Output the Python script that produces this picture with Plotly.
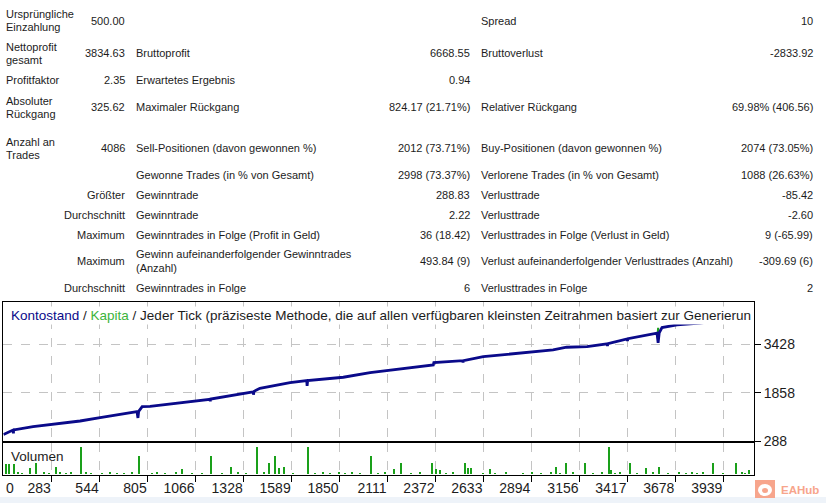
import plotly.graph_objects as go

W, H = 826, 503          # reference picture size (coordinates below are read in these pixels)
FIG_H = 511              # page height that the photographed viewport actually spans

# ---------------- statistics table (text data) ----------------
col_a = ["Ursprüngliche\nEinzahlung", "Nettoprofit\ngesamt", "Profitfaktor", "Absoluter\nRückgang",
         "Anzahl an\nTrades", "", "Größter", "Durchschnitt", "Maximum", "Maximum", "Durchschnitt"]
col_b = ["500.00", "3834.63", "2.35", "325.62", "4086", "", "", "", "", "", ""]
col_c = ["", "Bruttoprofit", "Erwartetes Ergebnis", "Maximaler Rückgang",
         "Sell-Positionen (davon gewonnen %)", "Gewonne Trades (in % von Gesamt)",
         "Gewinntrade", "Gewinntrade", "Gewinntrades in Folge (Profit in Geld)",
         "Gewinn aufeinanderfolgender Gewinntrades\n(Anzahl)", "Gewinntrades in Folge"]
col_d = ["", "6668.55", "0.94", "824.17 (21.71%)", "2012 (73.71%)", "2998 (73.37%)",
         "288.83", "2.22", "36 (18.42)", "493.84 (9)", "6"]
col_e = ["Spread", "Bruttoverlust", "", "Relativer Rückgang", "Buy-Positionen (davon gewonnen %)",
         "Verlorene Trades (in % von Gesamt)", "Verlusttrade", "Verlusttrade",
         "Verlusttrades in Folge (Verlust in Geld)",
         "Verlust aufeinanderfolgender Verlusttrades (Anzahl)", "Verlusttrades in Folge"]
col_f = ["10", "-2833.92", "", "69.98% (406.56)", "2074 (73.05%)", "1088 (26.63%)",
         "-85.42", "-2.60", "9 (-65.99)", "-309.69 (6)", "2"]

# ---------------- balance / equity curve ----------------
bal_trades = [20, 72, 74, 76, 181, 437, 546, 747, 752, 756, 775, 818, 1144, 1146, 1148,
              1362, 1379, 1381, 1384, 1416, 1580, 1671, 1673, 1676, 1870, 2016, 2360, 2363,
              2520, 2522, 2524, 2632, 2794, 3012, 3086, 3197, 3306, 3308, 3311, 3415, 3417,
              3420, 3578, 3584, 3590, 3605, 3687, 3812, 4086]
balance = [500, 646, 540, 650, 753, 938, 1045, 1240, 1036, 1250, 1403, 1410, 1643, 1580, 1650,
           1858, 1880, 1793, 1900, 2001, 2183, 2248, 2076, 2252, 2359, 2508, 2758, 2833,
           2896, 2840, 2898, 3028, 3116, 3246, 3334, 3353, 3441, 3376, 3450, 3603, 3540,
           3610, 3789, 3474, 3800, 3971, 4059, 4114, 4335]
eq_trades = [3582, 3584, 3586]
equity = [3789, 3965, 3800]

# ---------------- volume ----------------
vol_trades = [34, 52, 79, 100, 125, 165, 196, 240, 270, 306, 330, 360, 390, 446, 470, 500,
              560, 600, 640, 680, 720, 760, 830, 860, 900, 960, 992, 1050, 1100, 1154,
              1210, 1259, 1300, 1340, 1404, 1440, 1467, 1500, 1522, 1549, 1600, 1680,
              1720, 1760, 1800, 1850, 1880, 1920, 1960, 2025, 2060, 2100, 2148, 2188,
              2240, 2290, 2352, 2379, 2397, 2430, 2470, 2533, 2551, 2569, 2630, 2669,
              2700, 2760, 2850, 2900, 2950, 3000, 3027, 3050, 3083, 3120, 3186, 3230,
              3280, 3318, 3327, 3350, 3380, 3430, 3470, 3517, 3560, 3593, 3640, 3700,
              3740, 3770, 3800, 3830, 3887, 3940, 4007, 4040, 4060, 4083]
vol_values = [1.0, 1.0, 1.0, 0.2, 0.1, 0.6, 1.1, 0.2, 0.1, 0.7, 0.2, 0.1, 0.2, 2.7, 0.2, 0.1,
              0.1, 0.2, 0.1, 0.1, 0.2, 1.8, 0.1, 0.2, 0.1, 0.2, 0.5, 0.1, 0.1, 1.8,
              0.1, 0.7, 0.2, 0.1, 2.7, 0.2, 1.1, 1.8, 0.6, 0.7, 0.1, 2.7,
              0.1, 0.2, 0.1, 0.2, 0.1, 0.2, 0.1, 1.8, 0.1, 0.2, 0.5, 1.1,
              0.1, 0.2, 1.1, 0.5, 0.4, 0.1, 0.2, 1.1, 0.6, 0.6, 0.1, 0.5,
              0.1, 0.2, 0.1, 0.2, 0.1, 0.2, 0.7, 0.1, 1.1, 0.2, 1.1, 0.1,
              0.2, 2.7, 0.4, 0.1, 0.2, 1.1, 0.1, 0.6, 0.2, 0.7, 0.1, 0.2,
              0.1, 0.2, 0.1, 0.2, 1.1, 0.1, 1.1, 0.2, 0.1, 0.4]

x_tick_labels = ["0", "283", "544", "805", "1066", "1328", "1589", "1850", "2111", "2372",
                 "2633", "2894", "3156", "3417", "3678", "3939"]
y_tick_vals = [288, 1858, 3428]

title_parts = ["Kontostand", "Kapita",
               "Jeder Tick (präziseste Methode, die auf allen verfügbaren kleinsten Zeitrahmen basiert zur Generierun"]

# ---------------- styling ----------------
FONT = "Liberation Sans"
TXT = "#1c1c1c"
NAVY = "#0a0a8a"
GREEN = "#1aa01a"
GRID = "#c4c4c4"


def px(x):
    return x / W


def py(y):
    return 1 - y / H


fig = go.Figure()

fig.add_trace(go.Bar(x=vol_trades, y=vol_values, width=5.5, marker=dict(color=GREEN, line=dict(width=0)),
                     xaxis="x2", yaxis="y2", showlegend=False, hoverinfo="skip"))
fig.add_trace(go.Scatter(x=eq_trades, y=equity, mode="lines", line=dict(color=GREEN, width=2),
                         xaxis="x", yaxis="y", showlegend=False, hoverinfo="skip"))
fig.add_trace(go.Scatter(x=bal_trades, y=balance, mode="lines", line=dict(color=NAVY, width=2.8),
                         xaxis="x", yaxis="y", showlegend=False, hoverinfo="skip"))

x_left, x_right = 3.3, 754
main_top, main_bot = 302, 441
vol_top, vol_bot = 443, 475
x_range = [19, 4106]
tickvals = [int(t) for t in x_tick_labels[1:]]

axis_common = dict(showline=True, mirror=True, linecolor="black", linewidth=1, zeroline=False)

fig.update_layout(
    width=W, height=FIG_H, margin=dict(l=0, r=0, t=0, b=0),
    paper_bgcolor="white", plot_bgcolor="white", bargap=0,
    font=dict(family=FONT, color=TXT),
    xaxis=dict(domain=[px(x_left), px(x_right)], anchor="y", range=x_range,
               tickvals=tickvals, showticklabels=False, ticks="",
               showgrid=True, gridcolor=GRID, griddash="dash", gridwidth=1, **axis_common),
    yaxis=dict(domain=[py(main_bot), py(main_top)], anchor="x", side="right", range=[288, 4803],
               tickvals=y_tick_vals, ticktext=[str(v) for v in y_tick_vals], ticks="outside",
               ticklen=6, tickcolor="black", tickfont=dict(size=14, color=TXT, family=FONT),
               showgrid=True, gridcolor=GRID, griddash="dash", gridwidth=1, **axis_common),
    xaxis2=dict(domain=[px(x_left), px(x_right)], anchor="y2", range=x_range, matches="x",
                tickvals=tickvals, ticktext=x_tick_labels[1:], ticks="outside", ticklen=6,
                tickcolor="black", ticklabelposition="outside left",
                tickfont=dict(size=14, color=TXT, family=FONT),
                showgrid=True, gridcolor=GRID, griddash="dash", gridwidth=1, **axis_common),
    yaxis2=dict(domain=[py(vol_bot), py(vol_top)], anchor="x2", range=[-0.1, 3.1],
                showticklabels=False, ticks="", showgrid=False, **axis_common),
)

ann = []


def add_text(text, x, y, anchor, size=11, color=TXT, line_h=13):
    lines = text.split("\n")
    n = len(lines)
    for i, ln in enumerate(lines):
        yy = y + (i - (n - 1) / 2) * line_h
        ann.append(dict(text=ln, x=px(x), y=py(yy), xref="paper", yref="paper",
                        xanchor=anchor, yanchor="middle", showarrow=False,
                        font=dict(size=size, color=color, family=FONT)))


row_y = [20.5, 53.5, 80, 107, 148, 175, 195, 215, 235, 261, 288]
for i, y in enumerate(row_y):
    if col_a[i]:
        add_text(col_a[i], 3.5 if i < 5 else 126.7, y, "left" if i < 5 else "right")
    if col_b[i]:
        add_text(col_b[i], 126.7, y, "right")
    if col_c[i]:
        add_text(col_c[i], 134.3, y, "left")
    if col_d[i]:
        add_text(col_d[i], 471.7, y, "right")
    if col_e[i]:
        add_text(col_e[i], 479, y, "left")
    if col_f[i]:
        add_text(col_f[i], 815, y, "right")

# chart title (white background hides the curve like the original)
title_html = (f"<span style='color:{NAVY}'>{title_parts[0]}</span> / "
              f"<span style='color:#3cb43c'>{title_parts[1]}</span> / {title_parts[2]}")
ann.append(dict(text=title_html, x=px(8.5), y=py(315), xref="paper", yref="paper",
                xanchor="left", yanchor="middle", showarrow=False, bgcolor="white", borderpad=1,
                font=dict(size=13.5, color=TXT, family=FONT)))
ann.append(dict(text="Volumen", x=px(8.5), y=py(456), xref="paper", yref="paper",
                xanchor="left", yanchor="middle", showarrow=False,
                font=dict(size=13.5, color=TXT, family=FONT)))
# first x tick label sits at the left edge
ann.append(dict(text=x_tick_labels[0], x=px(4), y=py(488), xref="paper", yref="paper",
                xanchor="left", yanchor="middle", showarrow=False,
                font=dict(size=14, color=TXT, family=FONT)))
# watermark
ann.append(dict(text="<b>EAHub</b>", x=px(779), y=py(489.5), xref="paper", yref="paper",
                xanchor="left", yanchor="middle", showarrow=False,
                font=dict(size=11.5, color="#f7a58c", family=FONT)))

shapes = [
    dict(type="rect", xref="paper", yref="paper", x0=0, x1=1, y0=0, y1=py(497),
         fillcolor="#eef3f9", line=dict(width=0), layer="below"),
    dict(type="rect", xref="paper", yref="paper", x0=px(755), x1=px(775), y0=py(498), y1=py(480),
         fillcolor="#f7a58c", line=dict(width=0)),
    dict(type="circle", xref="paper", yref="paper", x0=px(758), x1=px(772), y0=py(496), y1=py(484),
         fillcolor="white", line=dict(width=0)),
    dict(type="circle", xref="paper", yref="paper", x0=px(762), x1=px(768), y0=py(493), y1=py(488),
         fillcolor="#f7a58c", line=dict(width=0)),
]

fig.update_layout(annotations=ann, shapes=shapes)

page_fix = (
    "var s=document.createElement('style');"
    "s.textContent='html,body{margin:0;padding:0;overflow:hidden;}"
    "body>div{overflow:hidden;line-height:0;}';"
    "document.head.appendChild(s);"
)
fig.write_html("out.html", config={"displayModeBar": False}, post_script=page_fix)
